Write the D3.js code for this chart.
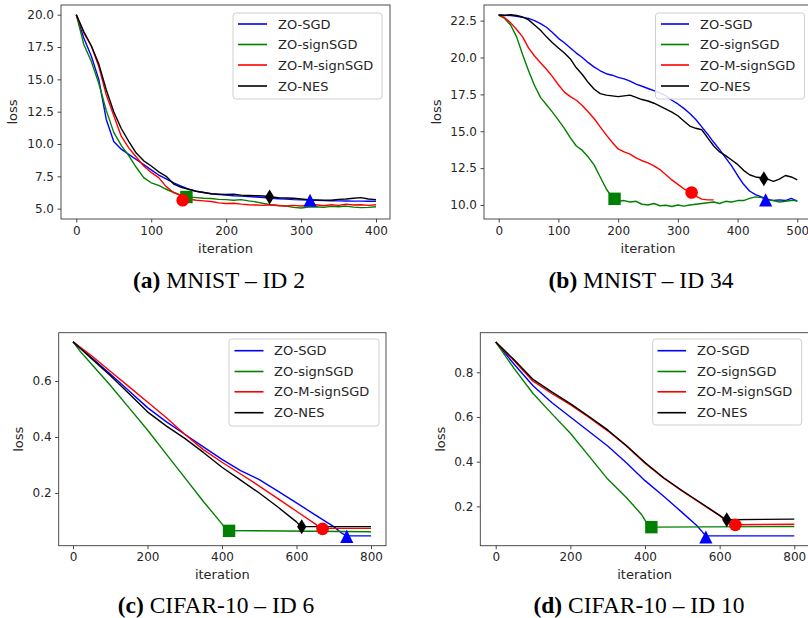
<!DOCTYPE html>
<html><head><meta charset="utf-8">
<script src="https://cdn.jsdelivr.net/npm/d3@7"></script>
<style>body{margin:0;background:#fff}svg{display:block}</style>
</head><body>
<svg id="chart" width="808" height="618"></svg>
<script>
// ---------- data ----------
const seriesNames = ["ZO-SGD", "ZO-signSGD", "ZO-M-signSGD", "ZO-NES"];
const captionTags = ["(a)", "(b)", "(c)", "(d)"];
const captionTexts = [" MNIST \u2013 ID 2", " MNIST \u2013 ID 34", " CIFAR-10 \u2013 ID 6", " CIFAR-10 \u2013 ID 10"];

// panel (a) MNIST ID 2
const iterA = d3.range(0, 401, 10);
const aSGD  = [20.0,18.2,16.8,15.0,11.9,10.2,9.6,9.2,8.8,8.4,8.0,7.6,7.3,7.0,6.75,6.5,6.35,6.25,6.15,6.1,6.05,6.0,5.97,5.93,5.9,5.85,5.8,5.77,5.74,5.7,5.68,5.66,5.64,5.62,5.61,5.6,5.59,5.58,5.58,5.57,5.57];
const aSign = [20.0,17.7,16.4,14.7,12.6,10.9,9.9,9.1,8.2,7.4,7.0,6.8,6.5,6.25,6.05,5.9,5.85,5.8,5.78,5.72,5.7,5.65,5.7,5.6,5.52,5.4,5.3,5.25,5.2,5.1,5.05,5.12,5.15,5.1,5.18,5.15,5.2,5.12,5.08,5.1,5.15];
const aM    = [20.0,18.6,17.6,16.0,13.8,12.2,10.6,9.7,9.0,8.3,7.8,7.4,6.7,6.25,6.0,5.75,5.65,5.6,5.55,5.45,5.4,5.42,5.35,5.3,5.28,5.25,5.3,5.22,5.2,5.25,5.2,5.25,5.3,5.22,5.3,5.25,5.35,5.28,5.3,5.25,5.3];
const aNES  = [20.0,18.7,17.6,16.2,14.2,12.5,11.2,10.2,9.3,8.7,8.3,7.85,7.5,6.9,6.65,6.5,6.35,6.25,6.15,6.12,6.1,6.12,6.05,6.02,6.0,5.98,5.9,5.85,5.82,5.8,5.75,5.7,5.68,5.65,5.65,5.72,5.75,5.8,5.85,5.75,5.7];
const aMarkX = [312, 147, 142, 258];
const aMarkY = [5.65, 5.9, 5.65, 5.9];

// panel (b) MNIST ID 34
const iterB = d3.range(0, 501, 10);
const bSGD  = [22.88,22.87,22.85,22.8,22.72,22.65,22.5,22.3,22.05,21.7,21.3,21.0,20.65,20.3,20.0,19.65,19.35,19.1,18.9,18.8,18.65,18.55,18.4,18.2,18.05,17.9,17.75,17.6,17.4,17.1,16.85,16.55,16.2,15.8,15.3,14.8,14.25,13.75,13.2,12.65,12.0,11.4,10.95,10.7,10.55,10.4,10.3,10.35,10.3,10.45,10.25];
const bSign = [22.88,22.65,22.2,21.4,20.2,19.1,18.1,17.3,16.8,16.3,15.75,15.2,14.55,14.0,13.7,13.25,12.7,11.9,11.1,10.5,10.25,10.3,10.2,10.25,10.05,10.0,10.1,9.95,9.98,9.9,10.0,9.92,10.0,10.05,10.1,10.15,10.2,10.1,10.25,10.2,10.3,10.3,10.45,10.55,10.5,10.35,10.3,10.2,10.25,10.3,10.3];
const bM    = [22.88,22.7,22.35,21.9,21.4,20.65,20.1,19.65,19.2,18.7,18.15,17.65,17.35,17.1,16.75,16.3,15.85,15.3,14.75,14.25,13.8,13.6,13.45,13.2,13.0,12.85,12.65,12.4,12.05,11.7,11.4,11.1,10.9,10.6,10.4,10.35,10.35];
const bNES  = [22.88,22.85,22.9,22.85,22.75,22.55,22.2,21.85,21.4,21.0,20.65,20.3,19.9,19.3,18.85,18.3,17.85,17.55,17.45,17.4,17.35,17.4,17.45,17.3,17.15,17.05,16.9,16.7,16.5,16.3,16.05,15.7,15.35,15.2,15.1,14.55,14.0,13.6,13.35,13.05,12.75,12.35,12.05,11.9,11.85,11.75,11.6,11.75,12.0,11.9,11.7];
const bMarkX = [447, 194, 323, 444];
const bMarkY = [10.35, 10.42, 10.85, 11.78];

// panel (c) CIFAR-10 ID 6
const cSGDx  = [0,50,100,150,200,250,300,350,400,450,500,550,600,650,700,720,735,800];
const cSGDy  = [0.74,0.683,0.625,0.565,0.505,0.455,0.41,0.365,0.32,0.28,0.248,0.207,0.165,0.122,0.08,0.058,0.047,0.047];
const cSignx = [0,20,50,100,150,200,250,300,350,400,412,800];
const cSigny = [0.74,0.705,0.66,0.585,0.505,0.425,0.34,0.255,0.17,0.09,0.066,0.062];
const cMx    = [0,50,100,150,200,250,300,350,400,450,500,550,600,650,662,800];
const cMy    = [0.74,0.69,0.635,0.58,0.525,0.47,0.41,0.355,0.31,0.268,0.225,0.18,0.135,0.09,0.074,0.074];
const cNESx  = [0,50,100,150,200,250,300,350,400,450,500,550,600,612,800];
const cNESy  = [0.74,0.68,0.62,0.555,0.49,0.44,0.395,0.345,0.292,0.246,0.2,0.15,0.097,0.08,0.08];
const cMarkX = [735, 419, 670, 614];
const cMarkY = [0.045, 0.065, 0.072, 0.08];

// panel (d) CIFAR-10 ID 10
const dSGDx  = [0,50,100,150,200,250,300,350,400,450,500,540,557,565,800];
const dSGDy  = [0.935,0.835,0.74,0.665,0.60,0.535,0.47,0.395,0.315,0.245,0.172,0.112,0.079,0.068,0.068];
const dSignx = [0,50,100,150,200,250,300,350,390,405,417,800];
const dSigny = [0.935,0.815,0.705,0.615,0.527,0.425,0.322,0.24,0.165,0.125,0.107,0.11];
const dMx    = [0,50,100,150,200,250,300,350,400,450,500,550,600,620,641,800];
const dMy    = [0.935,0.85,0.76,0.705,0.655,0.598,0.538,0.47,0.393,0.326,0.268,0.213,0.158,0.13,0.118,0.12];
const dNESx  = [0,50,100,150,200,250,300,350,400,450,500,550,600,617,800];
const dNESy  = [0.935,0.855,0.768,0.712,0.66,0.602,0.542,0.472,0.396,0.328,0.27,0.215,0.16,0.14,0.143];
const dMarkX = [563, 417, 642, 619];
const dMarkY = [0.063, 0.107, 0.117, 0.14];

// tick values
const aXTicks = [0,100,200,300,400], aYTicks = [5.0,7.5,10.0,12.5,15.0,17.5,20.0];
const bXTicks = [0,100,200,300,400,500], bYTicks = [10.0,12.5,15.0,17.5,20.0,22.5];
const cXTicks = [0,200,400,600,800], cYTicks = [0.2,0.4,0.6];
const dXTicks = [0,200,400,600,800], dYTicks = [0.2,0.4,0.6,0.8];

// ---------- style / layout ----------
const colors = ["#0000ff", "#008000", "#ff0000", "#000000"];
const shapes = ["triangle", "square", "circle", "diamond"];

const panels = [
  {box:[61,5,390,219], xd:[-20.4,418.7], yd:[4.2,20.75], xt:aXTicks, yt:aYTicks, fmt:".1f",
   series:[[iterA,aSGD],[iterA,aSign],[iterA,aM],[iterA,aNES]], mx:aMarkX, my:aMarkY,
   leg:[233,13,149,86], legLine:[238,267], legText:278, legY:[24,44.5,65,86], ylabX:12.5,
   cap:[219,288]},
  {box:[484,5,812,219], xd:[-24.6,524.6], yd:[9.05,23.56], xt:bXTicks, yt:bYTicks, fmt:".1f",
   series:[[iterB,bSGD],[iterB,bSign],[iterB.slice(0,bM.length),bM],[iterB,bNES]], mx:bMarkX, my:bMarkY,
   leg:[655.5,13,149,86], legLine:[661,689], legText:700, legY:[24,44.5,65,86], ylabX:436,
   cap:[641,288]},
  {box:[58.7,332.7,386,545.7], xd:[-38.4,840.3], yd:[0.012,0.7725], xt:cXTicks, yt:cYTicks, fmt:".1f",
   series:[[cSGDx,cSGDy],[cSignx,cSigny],[cMx,cMy],[cNESx,cNESy]], mx:cMarkX, my:cMarkY,
   leg:[229,339,150,87], legLine:[234.5,263.5], legText:274, legY:[350.7,371.5,391.8,412.7], ylabX:18,
   cap:[216,613]},
  {box:[480.3,332.7,809,545.7], xd:[-41.3,839.4], yd:[0.024,0.977], xt:dXTicks, yt:dYTicks, fmt:".1f",
   series:[[dSGDx,dSGDy],[dSignx,dSigny],[dMx,dMy],[dNESx,dNESy]], mx:dMarkX, my:dMarkY,
   leg:[652.7,339,149,86], legLine:[657.5,686], legText:697, legY:[350.7,371.5,391.8,412.7], ylabX:440,
   cap:[639,613]}
];

const svg = d3.select("#chart");
const tickFont = "DejaVu Sans, sans-serif";
const textColor = "#262626";

function drawMarker(g, shape, cx, cy, color) {
  if (shape === "circle") {
    g.append("circle").attr("cx", cx).attr("cy", cy).attr("r", 6.3).attr("fill", color);
  } else if (shape === "square") {
    g.append("rect").attr("x", cx - 6.2).attr("y", cy - 6.2).attr("width", 12.4).attr("height", 12.4).attr("fill", color);
  } else if (shape === "triangle") {
    g.append("path").attr("d", `M${cx},${cy-6.6}L${cx+6.6},${cy+6.6}L${cx-6.6},${cy+6.6}Z`).attr("fill", color);
  } else {
    g.append("path").attr("d", `M${cx},${cy-7.5}L${cx+4.6},${cy}L${cx},${cy+7.5}L${cx-4.6},${cy}Z`).attr("fill", color);
  }
}

panels.forEach((p, pi) => {
  const [x0, y0, x1, y1] = p.box;
  const x = d3.scaleLinear().domain(p.xd).range([x0, x1]);
  const y = d3.scaleLinear().domain(p.yd).range([y1, y0]);
  const g = svg.append("g");

  const clipId = "clip" + pi;
  svg.append("clipPath").attr("id", clipId).append("rect")
    .attr("x", x0).attr("y", y0).attr("width", x1 - x0).attr("height", y1 - y0);

  // lines
  const line = d3.line().x(d => x(d[0])).y(d => y(d[1]));
  const plot = g.append("g").attr("clip-path", `url(#${clipId})`);
  p.series.forEach((s, si) => {
    const pts = s[0].map((xv, i) => [xv, s[1][i]]).filter(d => d[1] !== undefined);
    plot.append("path").attr("d", line(pts)).attr("fill", "none")
      .attr("stroke", colors[si]).attr("stroke-width", 1.4).attr("stroke-linejoin", "round");
  });
  // markers
  p.mx.forEach((mv, si) => drawMarker(plot, shapes[si], x(mv), y(p.my[si]), colors[si]));

  // axes
  const xAxis = d3.axisBottom(x).tickValues(p.xt).tickFormat(d3.format("d")).tickSize(3.5).tickPadding(3.5);
  const yAxis = d3.axisLeft(y).tickValues(p.yt).tickFormat(d3.format(p.fmt)).tickSize(3.5).tickPadding(3.5);
  const gx = g.append("g").attr("transform", `translate(0,${y1})`).call(xAxis);
  const gy = g.append("g").attr("transform", `translate(${x0},0)`).call(yAxis);
  [gx, gy].forEach(ax => {
    ax.select(".domain").remove();
    ax.selectAll("line").attr("stroke", "#333").attr("stroke-width", 0.9);
    ax.selectAll("text").attr("font-family", tickFont).attr("font-size", 12).attr("fill", textColor);
  });
  // frame
  g.append("rect").attr("x", x0).attr("y", y0).attr("width", x1 - x0).attr("height", y1 - y0)
    .attr("fill", "none").attr("stroke", "#3a3a3a").attr("stroke-width", 0.9);

  // axis labels
  g.append("text").attr("x", (x0 + x1) / 2).attr("y", y1 + 33.5).attr("text-anchor", "middle")
    .attr("font-family", tickFont).attr("font-size", 13).attr("fill", textColor).text("iteration");
  g.append("text").attr("transform", `translate(${p.ylabX},${(y0 + y1) / 2}) rotate(-90)`)
    .attr("text-anchor", "middle").attr("dominant-baseline", "central")
    .attr("font-family", tickFont).attr("font-size", 13).attr("fill", textColor).text("loss");

  // legend
  const [lx, ly, lw, lh] = p.leg;
  g.append("rect").attr("x", lx).attr("y", ly).attr("width", lw).attr("height", lh).attr("rx", 3)
    .attr("fill", "#fff").attr("fill-opacity", 0.85).attr("stroke", "#d0d0d0").attr("stroke-width", 1);
  seriesNames.forEach((name, si) => {
    const yy = p.legY[si];
    g.append("line").attr("x1", p.legLine[0]).attr("x2", p.legLine[1]).attr("y1", yy).attr("y2", yy)
      .attr("stroke", colors[si]).attr("stroke-width", 1.6);
    g.append("text").attr("x", p.legText).attr("y", yy).attr("dominant-baseline", "central")
      .attr("font-family", tickFont).attr("font-size", 13).attr("fill", textColor).text(name);
  });

  // caption
  const cap = svg.append("text").attr("x", p.cap[0]).attr("y", p.cap[1]).attr("text-anchor", "middle")
    .attr("font-family", "Liberation Serif, Times New Roman, serif").attr("font-size", 23.5).attr("fill", "#000");
  cap.append("tspan").attr("font-weight", "bold").text(captionTags[pi]);
  cap.append("tspan").text(captionTexts[pi]);
});
</script>
</body></html>
